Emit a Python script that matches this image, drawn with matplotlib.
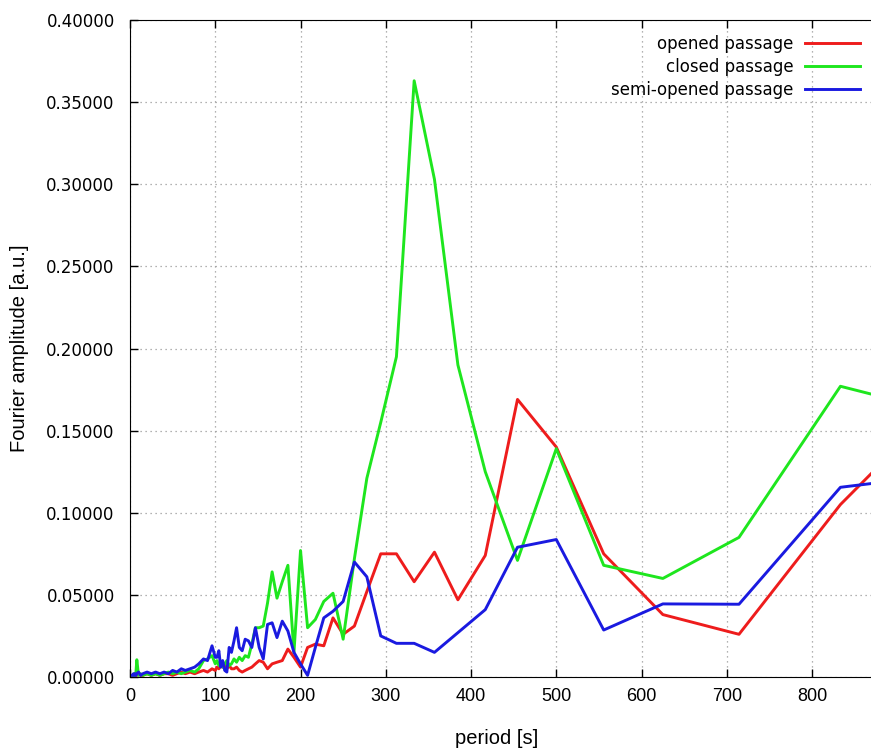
import matplotlib
matplotlib.use("Agg")
import matplotlib.pyplot as plt
from matplotlib.ticker import FormatStrFormatter, MultipleLocator

# Periods of the Fourier harmonics [s]
period = [
    1000, 833.3, 714.3, 625, 555.6, 500, 454.5, 416.7, 384.6, 357.1,
    333.3, 312.5, 294.1, 277.8, 263.2, 250, 238.1, 227.3, 217.4, 208.3,
    200, 192.3, 185.2, 178.6, 172.4, 166.7, 161.3, 156.3, 151.5, 147.1,
    142.9, 138.9, 135.1, 131.6, 128.2, 125, 122, 119, 116.3, 113.6,
    111.1, 108.7, 106.4, 104.2, 102, 100, 96.2, 90.9, 86.2, 80.6,
    75.8, 70.4, 64.9, 60.2, 54.9, 50, 45, 40, 35, 30,
    25, 20, 15, 12.5, 10, 8, 7, 6, 5, 4,
    3, 2,
]

# Fourier amplitudes [a.u.]
opened = [
    0.192, 0.105, 0.026, 0.038, 0.075, 0.140, 0.169, 0.074, 0.047, 0.076,
    0.058, 0.075, 0.075, 0.052, 0.031, 0.026, 0.036, 0.019, 0.020, 0.018,
    0.006, 0.012, 0.017, 0.010, 0.009, 0.008, 0.005, 0.009, 0.010, 0.008,
    0.006, 0.005, 0.004, 0.003, 0.004, 0.006, 0.005, 0.005, 0.007, 0.005,
    0.008, 0.006, 0.007, 0.005, 0.006, 0.004, 0.005, 0.003, 0.004, 0.003,
    0.002, 0.003, 0.002, 0.003, 0.002, 0.001, 0.002, 0.002, 0.001, 0.002,
    0.001, 0.002, 0.001, 0.001, 0.002, 0.001, 0.001, 0.002, 0.001, 0.001,
    0.001, 0.001,
]
closed = [
    0.155, 0.177, 0.085, 0.060, 0.068, 0.139, 0.071, 0.125, 0.190, 0.303,
    0.363, 0.195, 0.155, 0.121, 0.072, 0.023, 0.051, 0.046, 0.035, 0.030,
    0.077, 0.015, 0.068, 0.058, 0.048, 0.064, 0.045, 0.031, 0.030, 0.030,
    0.020, 0.012, 0.013, 0.010, 0.012, 0.009, 0.011, 0.008, 0.007, 0.010,
    0.008, 0.006, 0.009, 0.007, 0.010, 0.008, 0.013, 0.011, 0.010, 0.005,
    0.003, 0.004, 0.003, 0.002, 0.003, 0.002, 0.003, 0.002, 0.001, 0.002,
    0.001, 0.002, 0.001, 0.002, 0.001, 0.0105, 0.003, 0.001, 0.002, 0.001,
    0.001, 0.001,
]
semi_opened = [
    0.126, 0.1155, 0.0443, 0.0445, 0.0286, 0.0837, 0.079, 0.041, 0.027, 0.015,
    0.0205, 0.0205, 0.025, 0.061, 0.070, 0.046, 0.040, 0.036, 0.018, 0.001,
    0.008, 0.015, 0.028, 0.034, 0.024, 0.033, 0.032, 0.011, 0.018, 0.030,
    0.018, 0.022, 0.023, 0.016, 0.018, 0.030, 0.022, 0.015, 0.018, 0.003,
    0.004, 0.010, 0.006, 0.016, 0.012, 0.012, 0.019, 0.010, 0.011, 0.008,
    0.006, 0.005, 0.004, 0.005, 0.003, 0.004, 0.002, 0.003, 0.002, 0.003,
    0.002, 0.003, 0.002, 0.001, 0.003, 0.002, 0.001, 0.002, 0.001, 0.002,
    0.001, 0.001,
]

labels = ["opened passage", "closed passage", "semi-opened passage"]
colors = ["#ee1c1c", "#1ee61e", "#1a1ae0"]

fig = plt.figure(figsize=(8.71, 7.49), dpi=100)
ax = fig.add_axes([130 / 871, 72 / 749, 746 / 871, 657 / 749])

for y, lab, c in zip([opened, closed, semi_opened], labels, colors):
    ax.plot(period, y, color=c, lw=2.1, label=lab)

ax.set_xlim(0, 875)
ax.set_ylim(0, 0.4)
ax.xaxis.set_major_locator(MultipleLocator(100))
ax.yaxis.set_major_locator(MultipleLocator(0.05))
ax.yaxis.set_major_formatter(FormatStrFormatter("%.5f"))

ax.tick_params(direction="in", length=6, width=1, top=True, right=False)
ax.tick_params(axis="y", pad=11, labelsize=12)
ax.tick_params(axis="x", pad=8, labelsize=13)
for t in ax.get_xticklabels():
    t.set_family("Liberation Sans")
ax.grid(True, linestyle=(0, (1, 3)), color="#999999", lw=0.9)

ax.set_xlabel("period [s]", family="Liberation Sans", fontsize=14.5)
ax.set_ylabel("Fourier amplitude [a.u.]", family="Liberation Sans", fontsize=14.5)
ax.xaxis.set_label_coords(0.492, -0.079)
ax.yaxis.set_label_coords(-0.136, 0.5)

ax.legend(loc="upper right", bbox_to_anchor=(0.9786, 0.977), frameon=False,
          markerfirst=False, fontsize=12, handlelength=3.3, handletextpad=0.7,
          labelspacing=0.3, borderaxespad=0, borderpad=0)

fig.savefig("out.png", dpi=100)
